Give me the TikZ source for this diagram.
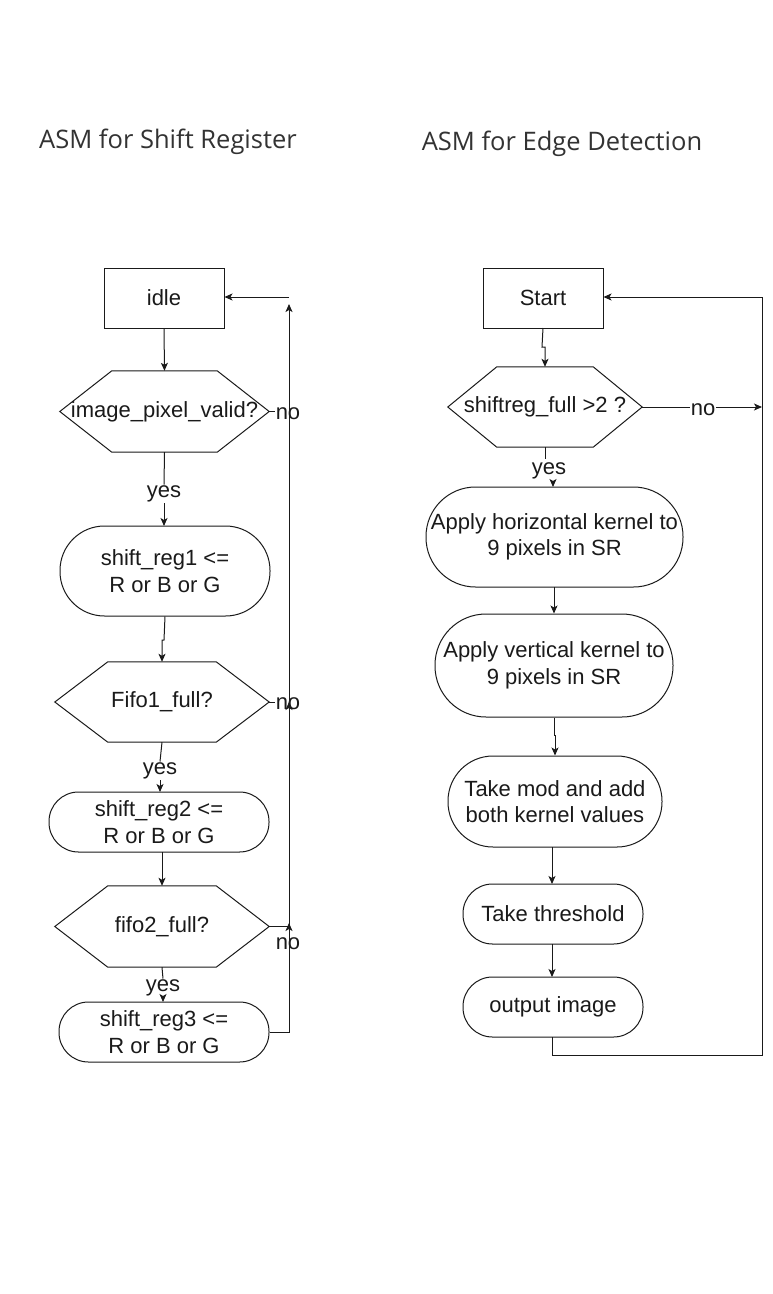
\documentclass[tikz,border=0pt]{standalone}
\usepackage{fontspec}
\setmainfont{Liberation Sans}
\newfontfamily\titlefont{Open Sans}
\usetikzlibrary{arrows.meta}
\definecolor{ink}{HTML}{1A1A1A}
\definecolor{titleink}{HTML}{333333}

% hexagonal decision outline around a plain node: #1 name, #2 inset of the top edge
\newcommand\hexoutline[2]{%
  \draw[line] ([xshift=#2]#1.north west) -- ([xshift=-#2]#1.north east) -- (#1.east)
    -- ([xshift=-#2]#1.south east) -- ([xshift=#2]#1.south west) -- (#1.west) -- cycle;}

\begin{document}
\begin{tikzpicture}[x=1pt,y=-1pt,
  every node/.style={font=\fontsize{22}{26.4}\selectfont, text=ink, inner sep=0pt, align=center},
  line/.style={draw=ink, line width=1pt},
  arr/.style={line, -{Stealth[length=8pt,width=7pt,inset=2pt]}},
  statebox/.style={line, minimum width=120pt, minimum height=60pt},
  stadium/.style={line, rounded corners=#1},
  decision/.style={minimum height=81pt},
  lbl/.style={fill=white, inner sep=1pt},
  title/.style={font=\titlefont\fontsize{25.5}{30}\selectfont, text=titleink}]

\useasboundingbox[fill=white] (0,0) rectangle (773,1294);

% titles
\node[title] (t1) at (168,142) {ASM for Shift Register};
\node[title] (t2) at (562,144) {ASM for Edge Detection};

% ---------------- shift register ASM ----------------
\node[statebox] (idle) at (164,298) {idle};
\node[decision, minimum width=209pt] (hexA) at (164.5,411.5) {image\_pixel\_valid?};
\hexoutline{hexA}{52pt}
\node[stadium=44.5pt, minimum width=210pt, minimum height=90pt] (sr1) at (165,571) {shift\_reg1 <=\\R or B or G};
\node[decision, minimum width=214pt, minimum height=80pt] (fifoA) at (162,702) {Fifo1\_full?};
\hexoutline{fifoA}{53pt}
\node[stadium=29.5pt, minimum width=220pt, minimum height=60pt] (sr2) at (159,822) {shift\_reg2 <=\\R or B or G};
\node[decision, minimum width=214pt] (fifoB) at (162,926.5) {fifo2\_full?};
\hexoutline{fifoB}{53pt}
\node[stadium=29.5pt, minimum width=210pt, minimum height=60pt] (sr3) at (164,1032) {shift\_reg3 <=\\R or B or G};

% forward flow
\draw[arr] (idle.south) -- (hexA.north);
\node[lbl] (yA) at (164,494) {yes};
\draw[line] (hexA.south) -- (yA.north);
\draw[arr] (yA.south) -- (164,526);
\coordinate (j1) at (164,640);
\coordinate (j2) at (162,640);
\draw[arr] (sr1.south) -- (j1) -- (j2) -- (fifoA.north);
\node[lbl] (yB) at (160,771) {yes};
\draw[line] (fifoA.south) -- (yB.north);
\draw[arr] (yB.south) -- (160,792);
\draw[arr] (162,852) -- (fifoB.north);
\node[lbl] (yC) at (163,988) {yes};
\draw[line] (fifoB.south) -- (yC.north);
\draw[arr] (yC.south) -- (163,1002);

% return path on the right
\coordinate (rTop) at (289,297);
\coordinate (rA) at (289,411.5);
\coordinate (rB) at (289,702);
\coordinate (rC) at (289,926.5);
\coordinate (rD) at (289,1032);
\node[lbl] (nA) at (288,413.5) {no};
\node[lbl] (nB) at (288,704) {no};
\node[lbl] (nC) at (288,944) {no};
\draw[line] (hexA.east) -- (nA.west |- hexA.east);
\draw[line] (fifoA.east) -- (nB.west |- fifoA.east);
\draw[arr] (sr3.east) -- (rD) -- (289,923);
\draw[arr] (fifoB.east) -- (rC) -- (289,702);
\draw[arr] (rB) -- (289,304);
\draw[arr] (rTop) -- (idle.east |- rTop);

% ---------------- edge detection ASM ----------------
\node[statebox] (start) at (543,298) {Start};
\node[decision, minimum width=194pt, minimum height=80pt] (hexE) at (545,407) {shiftreg\_full >2 ?};
\hexoutline{hexE}{49pt}
\node[stadium=49.5pt, minimum width=257pt, minimum height=100pt] (hk) at (554.5,537) {Apply horizontal kernel to\\9 pixels in SR};
\node[stadium=51pt, minimum width=238pt, minimum height=103pt] (vk) at (554,665.5) {Apply vertical kernel to\\9 pixels in SR};
\node[stadium=45pt, minimum width=214pt, minimum height=91pt] (md) at (555,801.5) {Take mod and add\\both kernel values};
\node[stadium=29.5pt, minimum width=180pt, minimum height=60pt] (th) at (553,914) {Take threshold};
\node[stadium=29.5pt, minimum width=180pt, minimum height=60pt] (out) at (553,1007) {output image};

\coordinate (k1) at (542,347);
\coordinate (k2) at (545,347);
\draw[arr] (543,328) -- (k1) -- (k2) -- (hexE.north);
\node[lbl] (yE) at (549,471) {yes};
\draw[line] (545,447) -- (545,459);
\draw[arr] (553,481) -- (553,487);
\draw[arr] (554,587) -- (vk.north);
\coordinate (k3) at (554,735);
\coordinate (k4) at (555,735);
\draw[arr] (vk.south) -- (k3) -- (k4) -- (md.north);
\draw[arr] (552,847) -- (552,884);
\draw[arr] (552,944) -- (552,977);

\node[lbl] (nE) at (703,410) {no};
\coordinate (eR) at (762,407);
\draw[line] (hexE.east) -- (nE.west |- hexE.east);
\draw[arr] (nE.east |- eR) -- (eR);

\coordinate (eB) at (552,1055);
\coordinate (eC) at (762,1055);
\coordinate (eT) at (762,297);
\draw[arr] (552,1037) -- (eB) -- (eC) -- (eT) -- (start.east |- eT);
\end{tikzpicture}
\end{document}
